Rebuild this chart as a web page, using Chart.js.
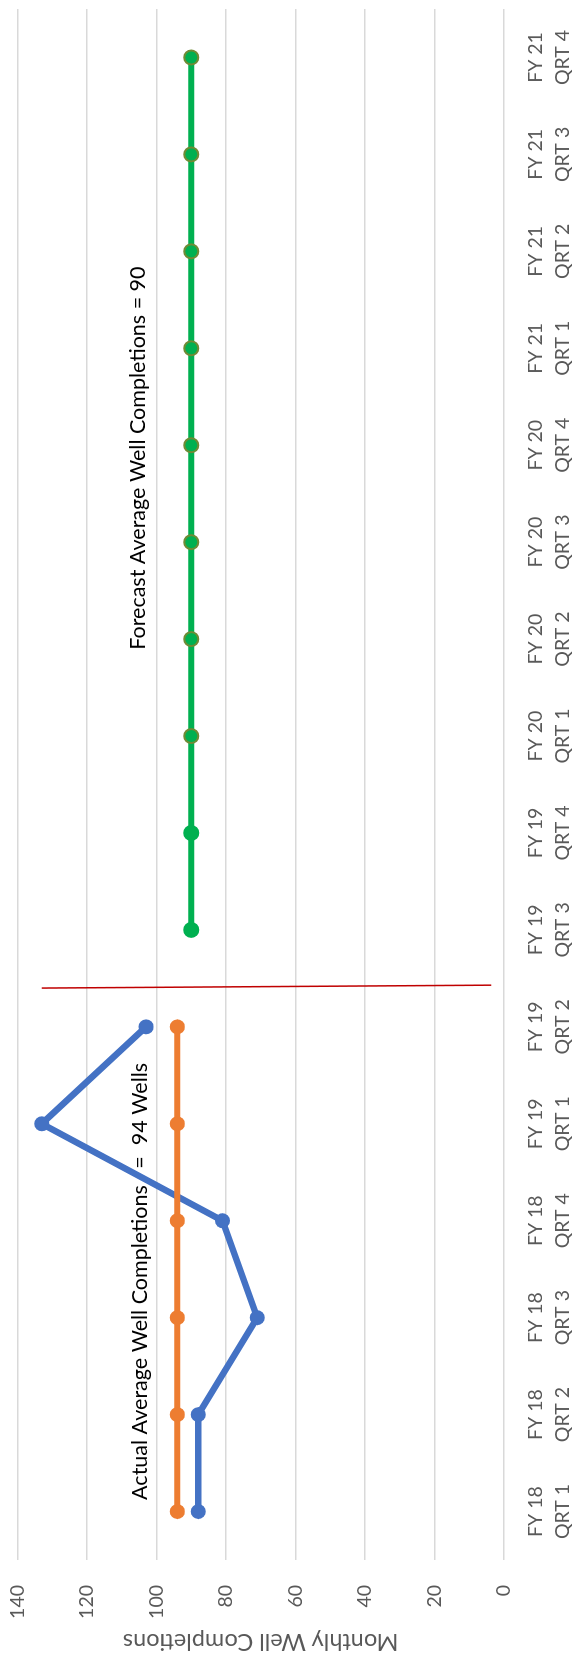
<!DOCTYPE html>
<html>
<head>
<meta charset="utf-8">
<script src="https://cdn.jsdelivr.net/npm/chart.js@4.4.0/dist/chart.umd.min.js"></script>
<style>
  html, body { margin: 0; padding: 0; background: #fff; overflow: hidden; }
  /* chart is drawn landscape and turned a quarter to the left */
  #wrap {
    position: absolute; left: 0; top: 0;
    width: 1659px; height: 574px;
    transform-origin: 0 0;
    transform: translateY(1659px) rotate(-90deg);
  }
</style>
</head>
<body>
<div id="wrap"><canvas id="chart" width="1659" height="574"></canvas></div>
<script>
const quarters = [
    ['FY 18', 'QRT 1'], ['FY 18', 'QRT 2'], ['FY 18', 'QRT 3'], ['FY 18', 'QRT 4'],
    ['FY 19', 'QRT 1'], ['FY 19', 'QRT 2'], ['FY 19', 'QRT 3'], ['FY 19', 'QRT 4'],
    ['FY 20', 'QRT 1'], ['FY 20', 'QRT 2'], ['FY 20', 'QRT 3'], ['FY 20', 'QRT 4'],
    ['FY 21', 'QRT 1'], ['FY 21', 'QRT 2'], ['FY 21', 'QRT 3'], ['FY 21', 'QRT 4']
];
const actualWells  = [88, 88, 71, 81, 133, 103, null, null, null, null, null, null, null, null, null, null];
const actualAvg    = [94, 94, 94, 94, 94, 94, null, null, null, null, null, null, null, null, null, null];
const forecastAvg  = [null, null, null, null, null, null, 90, 90, 90, 90, 90, 90, 90, 90, 90, 90];
const valueMin = 0;
const valueMax = 140;
const valueStep = 20;

// red divider between actual and forecast (category index, value)
const dividerIndex = [5.40, 5.43];
const dividerValue = [133, 3.7];

const noteTexts  = ['Actual Average Well Completions   =  94 Wells', 'Forecast Average Well Completions = 90'];
const noteIndex  = [0.12, 8.89];
const noteValue  = [102.8, 103.3];

const grey = '#595959';

const extras = {
    id: 'extras',
    afterDatasetsDraw(chart) {
        const ctx = chart.ctx;
        const x = chart.scales.x;
        const y = chart.scales.y;
        const step = x.getPixelForValue(1) - x.getPixelForValue(0);
        const px = i => x.getPixelForValue(0) + i * step;

        ctx.save();
        ctx.strokeStyle = '#C00000';
        ctx.lineWidth = 1.5;
        ctx.beginPath();
        ctx.moveTo(px(dividerIndex[0]), y.getPixelForValue(dividerValue[0]));
        ctx.lineTo(px(dividerIndex[1]), y.getPixelForValue(dividerValue[1]));
        ctx.stroke();

        ctx.fillStyle = '#000';
        ctx.font = '21.5px Lato';
        ctx.textAlign = 'left';
        ctx.textBaseline = 'alphabetic';
        for (let i = 0; i < noteTexts.length; i++) {
            ctx.fillText(noteTexts[i], px(noteIndex[i]), y.getPixelForValue(noteValue[i]));
        }
        ctx.restore();
    }
};

Chart.defaults.font.family = 'Lato';

new Chart(document.getElementById('chart'), {
    type: 'line',
    data: {
        labels: quarters,
        datasets: [{
            data: actualWells,
            borderColor: '#4472C4',
            backgroundColor: '#4472C4',
            borderWidth: 6.5,
            pointRadius: 7.5,
            pointBorderWidth: 0,
            borderJoinStyle: 'round',
            borderCapStyle: 'round',
            order: 2
        }, {
            data: actualAvg,
            borderColor: '#ED7D31',
            backgroundColor: '#ED7D31',
            borderWidth: 6,
            pointRadius: 7.5,
            pointBorderWidth: 0,
            borderCapStyle: 'round',
            order: 1
        }, {
            data: forecastAvg,
            borderColor: '#00B050',
            backgroundColor: '#00B050',
            borderWidth: 6,
            pointRadius: 7,
            pointBorderWidth: 2,
            pointBorderColor: c => c.dataIndex < 8 ? '#00B050' : '#6F8B35',
            borderCapStyle: 'round',
            order: 1
        }]
    },
    options: {
        responsive: false,
        animation: false,
        devicePixelRatio: 1,
        layout: { padding: { top: 17.5, right: 1, left: 0, bottom: 0 } },
        plugins: {
            legend: { display: false },
            tooltip: { enabled: false }
        },
        scales: {
            x: {
                offset: true,
                grid: { display: false, drawTicks: false },
                border: { display: false },
                ticks: {
                    color: grey,
                    font: { size: 19.5, lineHeight: 1.41 },
                    padding: 17.5,
                    maxRotation: 0,
                    autoSkip: false
                },
                afterFit: s => {
                    s.height = 70;
                    s.paddingLeft = 0;
                    s.paddingRight = 0;
                }
            },
            y: {
                min: valueMin,
                max: valueMax,
                grid: { color: '#D9D9D9', lineWidth: 1.5, drawTicks: false },
                border: { display: false },
                ticks: {
                    stepSize: valueStep,
                    color: grey,
                    font: { size: 19.5 },
                    padding: 25
                },
                title: {
                    display: true,
                    text: 'Monthly Well Completions',
                    color: grey,
                    font: { size: 23.5 },
                    padding: { top: 3, bottom: 0 }
                },
                afterFit: s => {
                    s.width = 99;
                    s.paddingTop = 0;
                    s.paddingBottom = 0;
                }
            }
        }
    },
    plugins: [extras]
});
</script>
</body>
</html>
